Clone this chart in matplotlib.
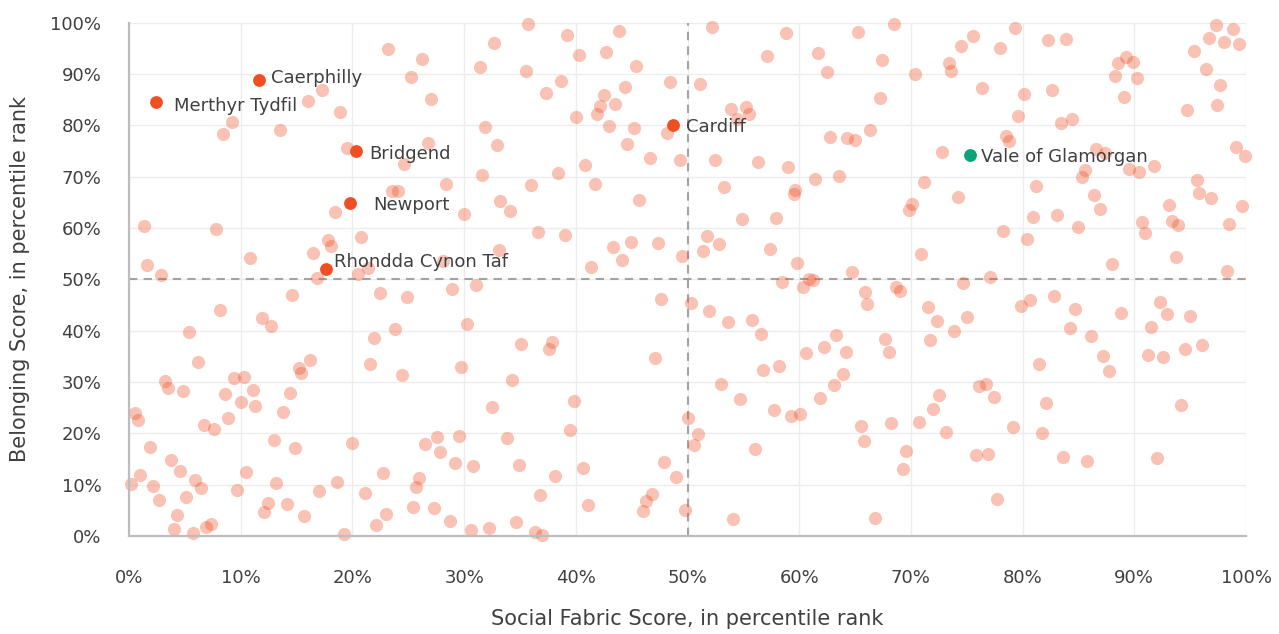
import matplotlib
matplotlib.use("Agg")
import matplotlib.pyplot as plt

# background areas, (social fabric %, belonging %)
other_x = [
    6.2, 16.2, 15.2, 15.4, 21.6, 24.4, 29.7, 3.2, 3.5, 4.8, 9.4, 10.3, 8.6, 11.1, 10.0, 11.3, 14.4, 13.8,
    8.9, 0.5, 0.8, 6.7, 7.6, 32.5, 1.9, 13.0, 14.9, 20.0, 26.5, 27.6, 29.5, 27.8, 29.2, 30.8, 3.8, 4.6,
    1.0, 0.2, 2.1, 2.7, 5.9, 6.4, 5.1, 10.5, 9.7, 13.2, 12.4, 12.1, 14.1, 17.0, 18.6, 15.7, 21.1, 22.7,
    23.0, 22.1, 19.2, 26.0, 25.7, 25.4, 27.3, 28.7, 30.6, 32.2, 4.3, 4.0, 5.7, 6.9, 7.3,
    1.3, 7.8, 1.6, 2.9, 10.8, 8.1, 5.4, 11.9, 12.7, 14.6, 16.5, 17.8, 18.1, 18.4, 20.8, 16.8, 20.5, 21.4,
    22.5, 24.9, 23.8, 21.9, 28.9, 31.1, 30.3, 30.0, 28.1, 23.5, 24.1, 28.4, 33.1, 33.2, 31.6,
    23.2, 26.2, 25.2, 31.4, 32.7, 17.3, 16.0, 18.9, 27.0, 9.2, 8.4, 13.5, 31.9, 19.5, 26.8, 24.6, 32.9,
    35.7, 39.2, 43.9, 40.3, 42.7, 35.5, 45.4, 38.7, 37.3, 42.5, 42.2, 41.9, 43.5, 44.4, 40.0, 48.4, 51.1,
    52.2, 58.8, 65.3, 57.1, 61.7, 62.5, 43.0, 45.2, 44.6, 48.2, 46.6, 49.3, 40.8, 38.4, 36.0, 41.7, 52.5,
    56.3, 59.0, 53.9, 55.2, 55.5, 54.4, 62.8, 64.3, 65.0, 66.3, 61.4, 63.6, 53.3, 59.6,
    68.5, 67.4, 70.4, 73.4, 73.6, 74.5, 75.6, 78.0, 79.3, 76.4, 80.1, 82.3, 83.9, 82.6, 67.2, 79.6, 83.4,
    84.4, 78.5, 78.8, 72.8, 71.2, 81.2, 86.6, 87.4, 85.6, 85.3, 89.5, 90.4, 91.8, 88.3, 88.5, 89.3, 89.9,
    90.2, 89.1, 94.7, 95.3, 96.7, 97.3, 98.0, 98.8, 99.4, 96.4, 97.7, 97.4, 99.1, 99.9, 95.6,
    34.1, 45.7, 59.5, 54.9, 57.9, 36.6, 39.0, 43.3, 44.9, 44.1, 47.4, 41.4, 49.5, 51.7, 52.8, 51.4, 57.4,
    59.8, 58.5, 60.3, 60.9, 61.2, 64.7, 65.9, 66.1, 47.6, 50.3, 51.9, 53.6, 55.8, 56.6, 63.3, 62.2, 60.6,
    64.2, 35.1, 37.9, 37.6, 47.1,
    34.3, 39.8, 39.5, 33.8, 34.9, 38.1, 40.6, 36.8, 41.1, 34.6, 36.3, 37.0, 47.9, 49.0, 46.8, 46.3, 46.0,
    49.8, 50.0, 50.9, 50.6, 54.1, 53.0, 54.7, 56.0, 56.8, 58.2, 57.7, 59.3, 60.1, 61.9, 63.1, 63.9, 65.5,
    65.8,
    68.0, 81.5, 87.2, 87.7, 91.2, 92.6, 94.5, 76.1, 76.7, 77.4, 72.5, 72.0, 70.7, 68.2, 73.1, 69.6, 69.3,
    79.1, 82.1, 81.7, 75.8, 76.9, 83.6, 85.8, 92.0, 94.2, 77.7, 66.8,
    95.8, 96.9, 99.6, 86.4, 86.9, 70.1, 69.8, 74.2, 80.9, 83.1, 85.0, 80.4, 78.2, 70.9, 88.0, 90.7, 91.0,
    93.1, 93.4, 93.9, 98.5, 93.7, 98.3, 77.1, 74.7, 68.7, 69.0, 71.5, 72.3, 75.0, 73.9, 71.7, 67.7, 79.9,
    80.7, 82.8, 84.7, 84.2, 86.1, 88.8, 92.3, 92.9, 95.0, 91.5, 96.1,
]
other_y = [
    33.9, 34.3, 32.7, 31.8, 33.6, 31.3, 32.9, 30.2, 28.9, 28.2, 30.7, 30.9, 27.7, 28.5, 26.1, 25.3, 27.9, 24.2,
    23.0, 24.0, 22.5, 21.7, 20.9, 25.1, 17.3, 18.7, 17.1, 18.2, 17.9, 19.3, 19.5, 16.3, 14.2, 13.6, 14.9, 12.7,
    11.9, 10.1, 9.7, 7.1, 10.9, 9.3, 7.6, 12.5, 9.0, 10.3, 6.5, 4.6, 6.2, 8.7, 10.6, 3.8, 8.4, 12.2,
    4.3, 2.2, 0.3, 11.2, 9.5, 5.7, 5.4, 3.0, 1.1, 1.6, 4.1, 1.4, 0.6, 1.8, 2.4,
    60.4, 59.8, 52.7, 50.8, 54.1, 44.0, 39.7, 42.5, 41.0, 47.0, 55.2, 57.7, 56.5, 63.1, 58.2, 50.2, 51.0, 52.2,
    47.3, 46.5, 40.3, 38.6, 48.1, 48.8, 41.3, 62.8, 53.6, 67.2, 67.3, 68.6, 55.7, 65.3, 70.3,
    94.9, 92.9, 89.4, 91.4, 96.0, 86.9, 84.8, 82.6, 85.1, 80.7, 78.3, 79.1, 79.6, 75.6, 76.6, 72.5, 76.1,
    99.8, 97.6, 98.4, 93.8, 94.3, 90.6, 91.6, 88.6, 86.4, 85.9, 83.7, 82.2, 84.2, 87.5, 81.6, 88.4, 88.1,
    99.2, 97.9, 98.1, 93.5, 94.0, 90.3, 79.9, 79.4, 76.4, 78.6, 73.6, 73.3, 72.3, 70.7, 68.3, 68.6, 73.2,
    72.9, 71.8, 83.2, 83.5, 82.3, 81.2, 77.8, 77.5, 77.1, 79.0, 69.6, 70.2, 67.9, 67.4,
    99.7, 92.7, 90.0, 92.1, 90.5, 95.5, 97.4, 95.1, 99.0, 87.2, 86.1, 96.6, 96.8, 86.8, 85.4, 81.8, 80.5,
    81.2, 78.0, 77.0, 74.8, 69.0, 68.1, 75.3, 74.7, 71.3, 69.9, 71.5, 70.9, 72.1, 89.7, 92.2, 93.3, 92.4,
    89.2, 85.6, 83.0, 94.5, 97.0, 99.6, 96.2, 98.7, 95.8, 91.0, 87.8, 83.9, 75.8, 74.0, 69.4,
    63.4, 65.5, 66.6, 61.7, 62.0, 59.3, 58.7, 56.3, 57.3, 53.8, 57.1, 52.4, 54.6, 58.4, 56.8, 55.5, 56.0,
    53.2, 49.4, 48.6, 50.1, 49.8, 51.4, 47.5, 45.1, 46.2, 45.4, 43.8, 41.6, 42.1, 39.4, 39.2, 36.9, 35.7,
    35.9, 37.5, 37.8, 36.5, 34.6,
    30.4, 26.3, 20.7, 19.0, 13.9, 11.7, 13.3, 7.9, 6.0, 2.7, 0.8, 0.1, 14.4, 11.4, 8.1, 6.8, 4.9,
    5.1, 22.9, 19.9, 17.7, 3.3, 29.6, 26.6, 16.9, 32.3, 33.1, 24.5, 23.3, 23.7, 26.9, 29.4, 31.5, 21.5,
    18.6,
    35.9, 33.5, 35.1, 32.1, 35.3, 34.8, 36.4, 29.2, 29.7, 27.1, 27.5, 24.7, 22.3, 22.1, 20.3, 16.6, 13.1,
    21.2, 25.9, 20.1, 15.7, 16.0, 15.4, 14.7, 15.2, 25.5, 7.3, 3.5,
    66.8, 65.8, 64.2, 66.4, 63.8, 64.7, 63.6, 66.0, 62.2, 62.5, 60.1, 57.9, 59.5, 54.9, 53.0, 61.2, 59.0,
    64.4, 61.4, 60.6, 60.8, 54.4, 51.7, 50.5, 49.2, 48.5, 47.8, 44.6, 41.8, 42.7, 39.9, 38.1, 38.3, 44.8,
    46.0, 46.7, 44.3, 40.5, 38.9, 43.5, 45.6, 43.2, 42.9, 40.8, 37.3,
]

# named areas
named = ["Merthyr Tydfil", "Caerphilly", "Bridgend", "Newport", "Rhondda Cynon Taf", "Cardiff",
         "Vale of Glamorgan"]
named_x = [2.4, 11.6, 20.3, 19.8, 17.6, 48.7, 75.3]
named_y = [84.5, 88.9, 75.1, 64.9, 52.0, 80.1, 74.3]
named_group = ["red", "red", "red", "red", "red", "red", "green"]

plt.rcParams['font.family'] = ['DejaVu Sans']
text_col = "#404040"

fig = plt.figure(figsize=(12.79, 6.34), dpi=100)
ax = fig.add_axes([0.1009, 0.1546, 0.8733, 0.8096])

ax.set_xlim(0, 100)
ax.set_ylim(0, 100)
ax.set_xticks(range(0, 101, 10))
ax.set_yticks(range(0, 101, 10))
ax.set_xticklabels(["{}%".format(v) for v in range(0, 101, 10)])
ax.set_yticklabels(["{}%".format(v) for v in range(0, 101, 10)])
ax.grid(True, color="#ececec", lw=1)
ax.set_axisbelow(True)
ax.tick_params(length=0, labelsize=13, colors=text_col)
ax.tick_params(axis="x", pad=24)
ax.tick_params(axis="y", pad=20)
for s in ["top", "right"]:
    ax.spines[s].set_visible(False)
for s in ["left", "bottom"]:
    ax.spines[s].set_color("#bdbdbd")
    ax.spines[s].set_linewidth(1.6)

# quadrant lines
ax.axvline(50, color="#a3a3a3", lw=1.5, dashes=(4, 3), zorder=1)
ax.axhline(50, color="#a3a3a3", lw=1.5, dashes=(4, 3), zorder=1)

ax.scatter(other_x, other_y, s=90, color="#F04E23", alpha=0.34, linewidths=0, clip_on=False, zorder=2)

colors = {"red": "#F04E23", "green": "#0AA37A"}
offsets = {
    "Merthyr Tydfil": (18, -4),
    "Caerphilly": (12, 2),
    "Bridgend": (13, -3),
    "Newport": (23, -2),
    "Rhondda Cynon Taf": (8, 7),
    "Cardiff": (13, -2),
    "Vale of Glamorgan": (11, -2),
}
for name, x, y, g in zip(named, named_x, named_y, named_group):
    ax.scatter([x], [y], s=85, color=colors[g], linewidths=0, zorder=4, clip_on=False)
    ax.annotate(name, (x, y), xytext=offsets[name], textcoords="offset pixels",
                ha="left", va="center", fontsize=13, color=text_col, zorder=5)

ax.set_xlabel("Social Fabric Score, in percentile rank", fontsize=15, color=text_col, va="center")
ax.set_ylabel("Belonging Score, in percentile rank", fontsize=15, color=text_col, va="center")
ax.xaxis.set_label_coords(0.5, -0.1617)
ax.yaxis.set_label_coords(-0.0976, 0.5)

plt.savefig("out.png", dpi=100)
